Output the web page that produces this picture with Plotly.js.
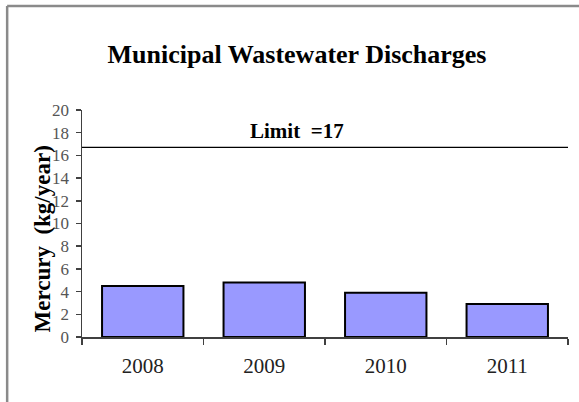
<!DOCTYPE html>
<html>
<head>
<meta charset="utf-8">
<script src="https://cdn.plot.ly/plotly-3.0.1.min.js"></script>
<style>
html,body{margin:0;padding:0;background:#fff;}
#chart{width:579px;height:402px;}
</style>
</head>
<body>
<div id="chart"></div>
<script>
var years = ["2008", "2009", "2010", "2011"];
var mercury = [4.5, 4.8, 3.9, 2.9];
var limitValue = [16.7];
var limitLabel = ["Limit  =17"];
var yTicks = [0, 2, 4, 6, 8, 10, 12, 14, 16, 18, 20];

var serif = "Liberation Serif, Times New Roman, serif";

var data = [{
  type: "bar",
  x: years,
  y: mercury,
  width: 0.67,
  marker: {color: "#9999FF", line: {color: "#000000", width: 2}},
  hoverinfo: "x+y"
}];

var layout = {
  width: 579,
  height: 402,
  margin: {l: 82, r: 11, t: 110, b: 65},
  paper_bgcolor: "#ffffff",
  plot_bgcolor: "#ffffff",
  showlegend: false,
  title: {
    text: "<b>Municipal Wastewater Discharges</b>",
    font: {family: serif, size: 26, color: "#000"},
    x: 0.513, xanchor: "center",
    y: 0.865, yanchor: "middle"
  },
  xaxis: {
    type: "category",
    range: [-0.5, 3.5],
    showline: true, linecolor: "#404040", linewidth: 1.5,
    ticks: "outside", tickson: "boundaries", ticklen: 6, tickcolor: "#404040", tickwidth: 1.5,
    tickfont: {family: serif, size: 21, color: "#222"},
    ticklabelstandoff: 9,
    showgrid: false, zeroline: false,
    fixedrange: true
  },
  yaxis: {
    range: [0, 20],
    tickvals: yTicks,
    ticktext: yTicks.map(String),
    showline: true, linecolor: "#404040", linewidth: 1.5,
    ticks: "outside", ticklen: 5, tickcolor: "#404040", tickwidth: 1.5,
    tickfont: {family: serif, size: 17, color: "#555"},
    ticklabelstandoff: 3,
    showgrid: false, zeroline: false,
    fixedrange: true
  },
  shapes: [
    {type: "line", xref: "paper", yref: "y", x0: 0, x1: 1, y0: limitValue[0], y1: limitValue[0],
     line: {color: "#000", width: 1.3}},
    {type: "line", xref: "paper", yref: "paper", x0: -0.154, x1: -0.154, y0: -0.4, y1: 1.458,
     line: {color: "#8a8a8a", width: 2.5}},
    {type: "line", xref: "paper", yref: "paper", x0: -0.154, x1: 1.03, y0: 1.458, y1: 1.458,
     line: {color: "#8a8a8a", width: 2.5}}
  ],
  annotations: [{
    xref: "paper", yref: "y", x: 0.442, y: limitValue[0],
    xanchor: "center", yanchor: "bottom", yshift: 2,
    text: "<b>" + limitLabel[0] + "</b>", showarrow: false,
    font: {family: serif, size: 21, color: "#000"}
  }, {
    xref: "paper", yref: "paper", x: -0.082, y: 0.43,
    xanchor: "center", yanchor: "middle", textangle: -90,
    text: "<b>Mercury  (kg/year)</b>", showarrow: false,
    font: {family: serif, size: 23, color: "#000"}
  }]
};

Plotly.newPlot("chart", data, layout, {displayModeBar: false, staticPlot: true});
</script>
</body>
</html>
